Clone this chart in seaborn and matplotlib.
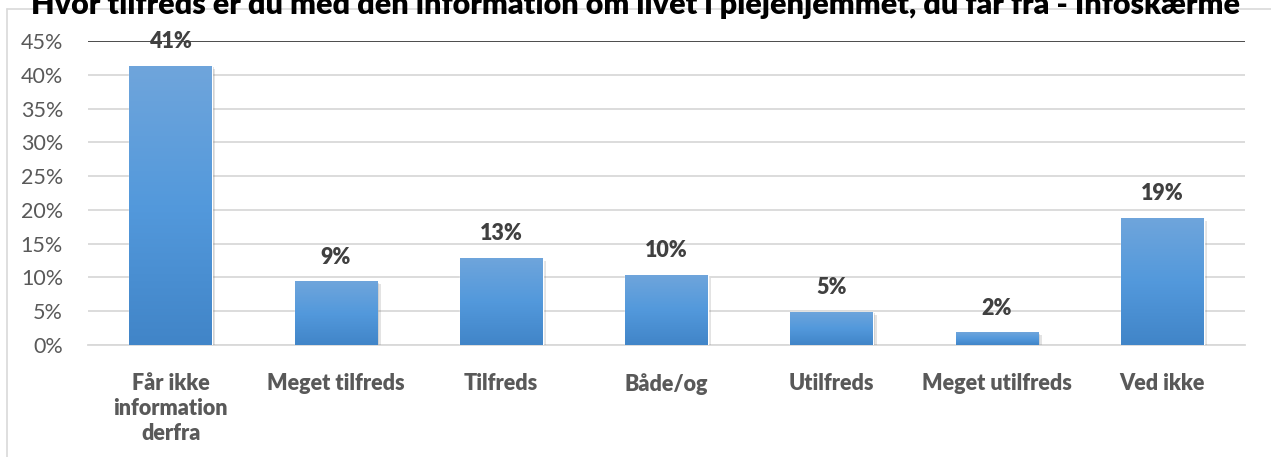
import matplotlib
matplotlib.use("Agg")
import matplotlib.pyplot as plt
import matplotlib.patheffects as pe
from matplotlib.colors import LinearSegmentedColormap
from matplotlib.ticker import PercentFormatter
import seaborn as sns
import numpy as np
import pandas as pd

TITLE = "Hvor tilfreds er du med den information om livet i plejehjemmet, du får fra - Infoskærme"
CATEGORIES = ["Får ikke\ninformation\nderfra", "Meget tilfreds", "Tilfreds", "Både/og",
              "Utilfreds", "Meget utilfreds", "Ved ikke"]
SHARES = [41.3, 9.4, 12.9, 10.4, 4.9, 1.9, 18.8]
LABELS = ["41%", "9%", "13%", "10%", "5%", "2%", "19%"]
Y_TICKS = [0, 5, 10, 15, 20, 25, 30, 35, 40, 45]

sns.set_theme(style="white")
plt.rcParams["font.family"] = ["Lato", "DejaVu Sans"]

df = pd.DataFrame({"kategori": CATEGORIES, "andel": SHARES})

fig = plt.figure(figsize=(12.71, 4.57), dpi=100)
ax = fig.add_axes([88 / 1271, 1 - 345 / 457, (1245 - 88) / 1271, (345 - 41) / 457])

sns.barplot(data=df, x="kategori", y="andel", color="#5b9bd5", width=0.5,
            saturation=1, ax=ax, zorder=3)

# gradient fill + soft shadow like the Excel original
grad = LinearSegmentedColormap.from_list("g", ["#4185c8", "#5399dc", "#6fa5db"])
for bar in ax.patches:
    bar.set_path_effects([pe.SimplePatchShadow(offset=(2.5, -2), alpha=0.18,
                                               shadow_rgbFace="#666666"),
                          pe.SimplePatchShadow(offset=(1.2, -1), alpha=0.22,
                                               shadow_rgbFace="#666666"),
                          pe.Normal()])
    x0, w, h = bar.get_x(), bar.get_width(), bar.get_height()
    img = ax.imshow(np.linspace(0, 1, 100).reshape(-1, 1), cmap=grad, origin="lower",
                    extent=[x0, x0 + w, 0, h], aspect="auto", zorder=4)
    img.set_clip_path(bar)
ax.set_xlim(-0.5, len(CATEGORIES) - 0.5)
ax.set_ylim(0, 45)

for i, (v, lab) in enumerate(zip(SHARES, LABELS)):
    ax.text(i, v + 2.0, lab, ha="center", va="bottom", fontsize=15.5,
            fontweight="heavy", color="#404040", zorder=6)

ax.set_yticks(Y_TICKS)
ax.yaxis.set_major_formatter(PercentFormatter(decimals=0))
ax.grid(axis="y", color="#d9d9d9", linewidth=1.3, zorder=0)
ax.set_axisbelow(True)
ax.axhline(45, color="#404040", linewidth=1.3, zorder=2)
for s in ["top", "right", "left"]:
    ax.spines[s].set_visible(False)
ax.spines["bottom"].set_color("#d9d9d9")
ax.spines["bottom"].set_linewidth(1.3)
ax.tick_params(axis="y", labelsize=15.5, labelcolor="#595959", length=0, pad=18)
ax.tick_params(axis="x", labelsize=15.5, labelcolor="#595959", length=0, pad=20)
for t in ax.get_xticklabels():
    t.set_fontweight("heavy")
    t.set_linespacing(1.25)
ax.set_xlabel("")
ax.set_ylabel("")

# chart frame (top and left edges visible)
fig.add_artist(plt.Line2D([7 / 1271, 1], [1 - 9 / 457, 1 - 9 / 457],
                          color="#d9d9d9", linewidth=1.2))
fig.add_artist(plt.Line2D([7 / 1271, 7 / 1271], [0, 1 - 9 / 457],
                          color="#d9d9d9", linewidth=1.2))

# title is cropped at the top in the reference
fig.text(0.5, 1 - 14 / 457, TITLE, ha="center", va="baseline", fontsize=22,
         fontweight="heavy", color="#000000")

fig.savefig("out.png", dpi=100)
plt.close(fig)
